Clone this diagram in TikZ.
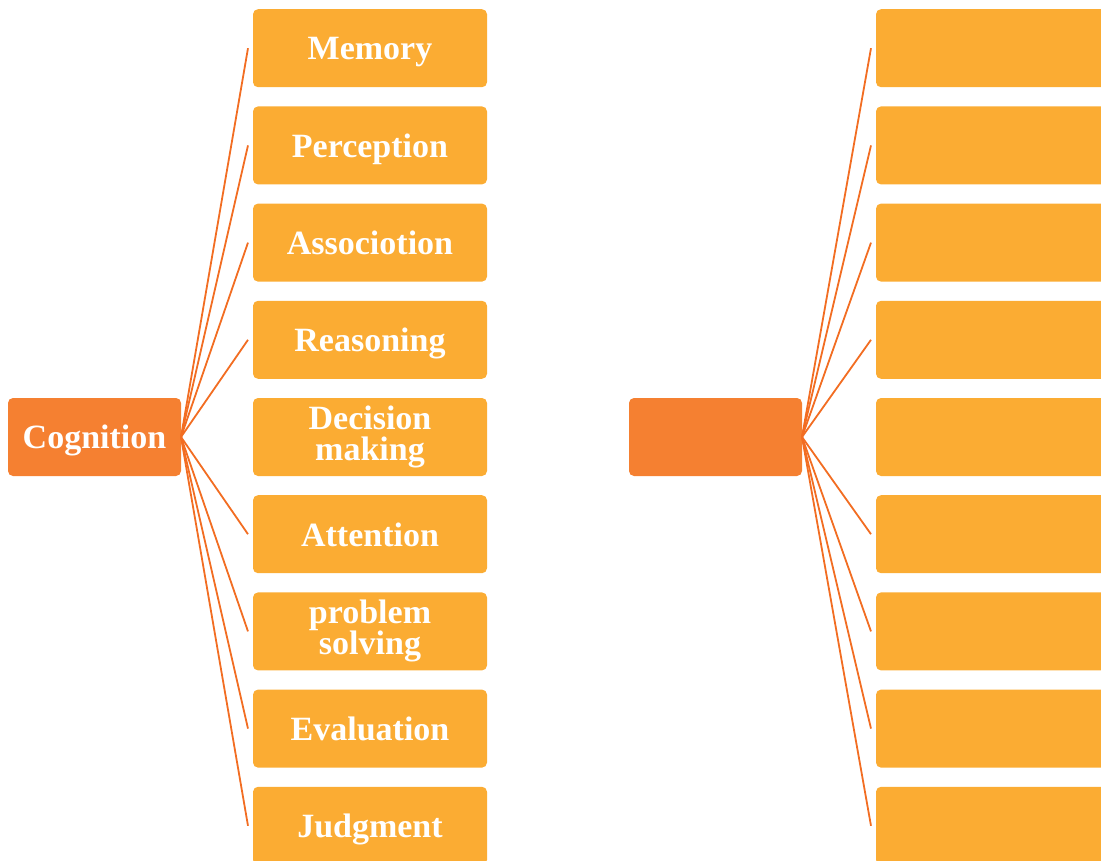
\documentclass[tikz,border=0pt]{standalone}
\usepackage{fontspec}
\setmainfont{Liberation Serif}
\usetikzlibrary{positioning}
\definecolor{rootorange}{HTML}{F58031}
\definecolor{leaforange}{HTML}{FBAC33}
\definecolor{lineorange}{HTML}{F26D22}
\tikzset{%
root box/.style={
    rectangle, fill=rootorange, rounded corners=5pt,
    minimum width=173pt, minimum height=78pt,
    text=white, font=\bfseries\fontsize{34}{31}\selectfont,
    text depth=0pt, inner sep=0pt, outer sep=0pt
},
leaf box/.style={
    rectangle, fill=leaforange, rounded corners=5pt,
    minimum width=234pt, minimum height=78pt,
    text=white, font=\bfseries\fontsize{34}{31}\selectfont,
    align=center, inner sep=0pt, outer sep=0pt
},
one line/.style={text depth=0pt},
branch/.style={draw=lineorange, line width=1.8pt},
}

\begin{document}
\begin{tikzpicture}[x=1pt, y=-1pt, node distance=19.2pt]
\clip (0,0) rectangle (1101,860);

% left tree
\node (cog) [root box] at (94.5,437) {Cognition};
\node (cog-1) [leaf box, one line] at (370,48.2) {Memory};
\node (cog-2) [leaf box, one line, below=of cog-1] {Perception};
\node (cog-3) [leaf box, one line, below=of cog-2] {Associotion};
\node (cog-4) [leaf box, one line, below=of cog-3] {Reasoning};
\node (cog-5) [leaf box, below=of cog-4] {Decision\\making};
\node (cog-6) [leaf box, one line, below=of cog-5] {Attention};
\node (cog-7) [leaf box, below=of cog-6] {problem\\solving};
\node (cog-8) [leaf box, one line, below=of cog-7] {Evaluation};
\node (cog-9) [leaf box, one line, below=of cog-8] {Judgment};
% no branch to the middle box
\foreach \i in {1,2,3,4,6,7,8,9}
  \draw [branch] (cog.east) -- ([xshift=-5pt]cog-\i.west);

% right tree, left blank
\node (blank) [root box] at (715.5,437) {};
\node (blank-1) [leaf box] at (993,48.2) {};
\node (blank-2) [leaf box, below=of blank-1] {};
\node (blank-3) [leaf box, below=of blank-2] {};
\node (blank-4) [leaf box, below=of blank-3] {};
\node (blank-5) [leaf box, below=of blank-4] {};
\node (blank-6) [leaf box, below=of blank-5] {};
\node (blank-7) [leaf box, below=of blank-6] {};
\node (blank-8) [leaf box, below=of blank-7] {};
\node (blank-9) [leaf box, below=of blank-8] {};
\foreach \i in {1,2,3,4,6,7,8,9}
  \draw [branch] (blank.east) -- ([xshift=-5pt]blank-\i.west);
\end{tikzpicture}
\end{document}
